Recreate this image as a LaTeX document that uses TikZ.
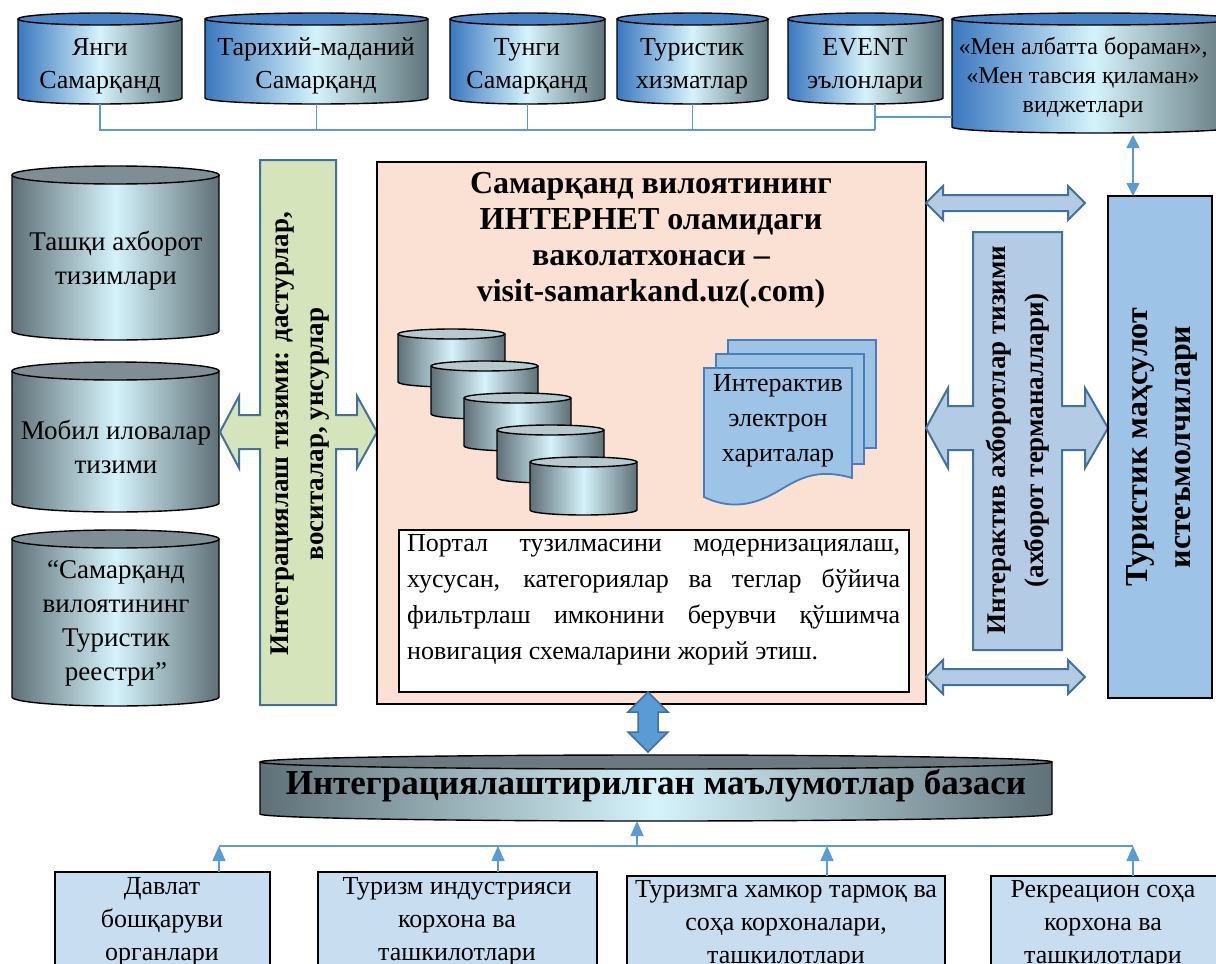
\documentclass[tikz,border=0pt]{standalone}
\usepackage{fontspec}
\setmainfont{Liberation Serif}
\usetikzlibrary{arrows.meta,calc}
\definecolor{cblueL}{HTML}{3B78BF}
\definecolor{cmid}{HTML}{D5F3FB}
\definecolor{cgreyR}{HTML}{5E7379}
\definecolor{capblue}{HTML}{4A84C4}
\definecolor{slate}{HTML}{5F7077}
\definecolor{capgrey}{HTML}{7F8E94}
\definecolor{dbcapc}{HTML}{6C7A7F}
\definecolor{smallcapc}{HTML}{B5C9CF}
\definecolor{peach}{HTML}{FBE1D3}
\definecolor{cgreen}{HTML}{D6E4BC}
\definecolor{cline}{HTML}{5B9BD5}
\definecolor{astroke}{HTML}{41719C}
\definecolor{lblue}{HTML}{9DC3E6}
\definecolor{dotblue}{HTML}{B4CBE5}
\definecolor{boxblue}{HTML}{C9DDF1}
\definecolor{docblue}{HTML}{9DC3E6}
\definecolor{docstroke}{HTML}{4A7EBB}
\newcommand{\myfs}[2]{\fontsize{#1}{#2}\selectfont}
\newcommand{\cyl}[8]{%
  \pgfmathsetmacro{\cylcx}{((#2)+(#4))/2}%
  \pgfmathsetmacro{\cylrx}{((#4)-(#2))/2}%
  \pgfmathsetmacro{\cylw}{(#4)-(#2)}%
  \pgfmathsetmacro{\cylh}{(#5)-(#3)}%
  \pgfmathsetmacro{\cylcy}{-((#3)+(#5))/2}%
  \pgfmathsetmacro{\cylyt}{-(#3)-(#6)}%
  \pgfmathsetmacro{\cylyb}{-(#5)+(#6)}%
  \pgfmathsetmacro{\cylxa}{#2}%
  \pgfmathsetmacro{\cylxb}{#4}%
  \path[#7] (\cylxa,\cylyt) -- (\cylxa,\cylyb) arc[start angle=180,end angle=360,x radius=\cylrx pt,y radius=#6 pt] -- (\cylxb,\cylyt) -- cycle;
  \draw[cylline] (\cylxa,\cylyt) -- (\cylxa,\cylyb) arc[start angle=180,end angle=360,x radius=\cylrx pt,y radius=#6 pt] -- (\cylxb,\cylyt);
  \draw[cylline,#8] (\cylcx,\cylyt) ellipse[x radius=\cylrx pt,y radius=#6 pt];
  \node[inner sep=0pt,outer sep=0pt,minimum width=\cylw pt,minimum height=\cylh pt] (#1) at (\cylcx,\cylcy) {};
}
\begin{document}
\begin{tikzpicture}[x=1pt,y=1pt,
  cylline/.style={draw=black,line width=1.4pt},
  topbody/.style={left color=cblueL,right color=cgreyR,middle color=cmid},
  topcap/.style={fill=capblue},
  greybody/.style={left color=slate,right color=slate,middle color=cmid},
  greycap/.style={fill=capgrey},
  dbcap/.style={fill=dbcapc},
  smallcap/.style={fill=smallcapc},
  toptxt/.style={align=center,font=\myfs{26}{33},inner sep=0pt},
  lefttxt/.style={align=center,font=\myfs{27}{34},inner sep=0pt},
  bottxt/.style={align=center,font=\myfs{26}{33},inner sep=0pt},
  conn/.style={draw=cline,line width=1.5pt},
  uparrow/.style={conn,-{Triangle[length=15pt,width=13pt]}},
  blockarrow/.style={draw=astroke,line width=2pt,line join=miter},
  plainbox/.style={draw=black,line width=1.5pt,inner sep=0pt,outer sep=0pt},
]
\useasboundingbox (0,0) rectangle (1216,-964);
\clip (0,0) rectangle (1216,-964);
\fill[white] (0,0) rectangle (1216,-964);

% ---------- top cylinders ----------
\cyl{c1}{18}{13}{182}{104}{6}{topbody}{topcap}
\cyl{c2}{205}{13}{428}{104}{6}{topbody}{topcap}
\cyl{c3}{450}{13}{605}{104}{6}{topbody}{topcap}
\cyl{c4}{617}{13}{768}{104}{6}{topbody}{topcap}
\cyl{c5}{788}{13}{943}{104}{6}{topbody}{topcap}
\cyl{c6}{952}{13}{1236}{133}{6}{topbody}{topcap}
\node[toptxt] (t1) at (100,-66) {Янги\\Самарқанд};
\node[toptxt] (t2) at (316,-66) {Тарихий-маданий\\Самарқанд};
\node[toptxt] (t3) at (527,-66) {Тунги\\Самарқанд};
\node[toptxt] (t4) at (692,-66) {Туристик\\хизматлар};
\node[toptxt] (t5) at (865,-66) {EVENT\\эълонлари};
\node[align=center,font=\myfs{24}{29},inner sep=0pt] (t6) at (1083,-77) {«Мен албатта бораман»,\\«Мен тавсия қиламан»\\виджетлари};

\coordinate (busR) at (875,-130);
\coordinate (j6) at (875,-117);
\draw[conn] (c1.south) |- (busR);
\draw[conn] (c2.south) -- (c2.south |- busR);
\draw[conn] (c3.south) -- (c3.south |- busR);
\draw[conn] (c4.south) -- (c4.south |- busR);
\draw[conn] (busR) -- (busR |- c5.south);
\draw[conn] (j6) -- (j6 -| c6.west);

% ---------- left cylinders ----------
\cyl{l1}{12}{166}{219}{340}{9}{greybody}{greycap}
\cyl{l2}{12}{362}{219}{512}{9}{greybody}{greycap}
\cyl{l3}{12}{530}{219}{706}{9}{greybody}{greycap}
\node[lefttxt] (l1t) at (116,-261) {Ташқи ахборот\\тизимлари};
\node[lefttxt] (l2t) at (116,-447) {Мобил иловалар\\тизими};
\node[lefttxt] (l3t) at (116,-623) {“Самарқанд\\вилоятининг\\Туристик\\реестри”};

% ---------- green integration cross ----------
\draw[blockarrow,fill=cgreen] (260,-160) -- (336,-160) -- (336,-415) -- (357,-415) -- (357,-396) -- (377,-432) -- (357,-468) -- (357,-449) -- (336,-449) -- (336,-705) -- (260,-705) -- (260,-449) -- (239,-449) -- (239,-468) -- (220,-432) -- (239,-396) -- (239,-415) -- (260,-415) -- cycle;
\node[rotate=90,align=center,font=\bfseries\myfs{27}{35},inner sep=0pt] (integ) at (300,-434) {Интеграциялаш тизими: дастурлар,\\воситалар, унсурлар};

% ---------- central portal box ----------
\node[plainbox,fill=peach,minimum width=549pt,minimum height=542pt] (portal) at (651.5,-433) {};
\node[align=center,font=\bfseries\myfs{32}{36},inner sep=0pt] (title) at (651,-240) {Самарқанд вилоятининг\\ИНТЕРНЕТ оламидаги\\ваколатхонаси –\\visit-samarkand.uz(.com)};

\foreach \i in {0,...,4}{
  \cyl{s\i}{398+33*\i}{329+32*\i}{505+33*\i}{387+32*\i}{5}{greybody}{smallcap}
}

% document stack
\draw[draw=docstroke,line width=1.8pt,fill=docblue] (728,-340) rectangle (876,-448);
\draw[draw=docstroke,line width=1.8pt,fill=docblue] (716,-354) rectangle (864,-464);
\draw[draw=docstroke,line width=1.8pt,fill=docblue] (704,-368) -- (852,-368) -- (852,-478) .. controls (818,-468) and (800,-478) .. (780,-490) .. controls (760,-502) and (735,-512) .. (704,-497) -- cycle;
\node[align=center,font=\myfs{26}{35},inner sep=0pt] (maps) at (778,-421) {Интерактив\\электрон\\хариталар};

% description box
\node[plainbox,fill=white,minimum width=510pt,minimum height=162pt,anchor=north west] (desc) at (399,-530) {};
\node[anchor=north west,align=left,font=\myfs{26}{36},inner sep=0pt] (desctxt) at (407,-534) {%
\makebox[493pt][s]{Портал тузилмасини модернизациялаш,}\\
\makebox[493pt][s]{хусусан, категориялар ва теглар бўйича}\\
\makebox[493pt][s]{фильтрлаш имконини берувчи қўшимча}\\
новигация схемаларини жорий этиш.};

% ---------- right side ----------
\draw[blockarrow,fill=dotblue] (926,-203) -- (943,-186) -- (943,-195) -- (1068,-195) -- (1068,-186) -- (1085,-203) -- (1068,-220) -- (1068,-211) -- (943,-211) -- (943,-220) -- cycle;
\draw[blockarrow,fill=dotblue] (926,-677) -- (943,-660) -- (943,-669) -- (1068,-669) -- (1068,-660) -- (1085,-677) -- (1068,-694) -- (1068,-685) -- (943,-685) -- (943,-694) -- cycle;
\draw[blockarrow,fill=dotblue] (973,-232) -- (1062,-232) -- (1062,-406) -- (1085,-406) -- (1085,-388) -- (1108,-428) -- (1085,-468) -- (1085,-450) -- (1062,-450) -- (1062,-650) -- (973,-650) -- (973,-450) -- (948,-450) -- (948,-468) -- (926,-428) -- (948,-388) -- (948,-406) -- (973,-406) -- cycle;
\node[rotate=90,align=center,font=\bfseries\myfs{27}{38},inner sep=0pt] (iterm) at (1018,-440) {Интерактив ахборотлар тизими\\(ахборот терманаллари)};

\node[plainbox,fill=lblue,minimum width=104pt,minimum height=502pt,anchor=north west] (consumers) at (1108,-196) {};
\node[rotate=90,align=center,font=\bfseries\myfs{32}{43},inner sep=0pt] (constxt) at (1162,-447) {Туристик маҳсулот\\истеъмолчилари};

\coordinate (a6) at (1133,-135);
\draw[conn,{Triangle[length=13pt,width=13pt]}-{Triangle[length=13pt,width=13pt]}] (a6) -- (a6 |- consumers.north);

% ---------- vertical block arrow portal <-> db ----------
\draw[draw=astroke,line width=1.5pt,fill=cline] (648,-692) -- (668,-712) -- (658,-712) -- (658,-732) -- (668,-732) -- (648,-752) -- (628,-732) -- (638,-732) -- (638,-712) -- (628,-712) -- cycle;

% ---------- integrated database ----------
\cyl{db}{260}{755}{1052}{821}{7}{greybody}{dbcap}
\node[font=\bfseries\myfs{35}{40},inner sep=0pt] (dbt) at (656,-786) {Интеграциялаштирилган маълумотлар базаси};

% ---------- bottom boxes ----------
\node[plainbox,fill=boxblue,minimum width=215pt,minimum height=110pt,anchor=north west] (b1) at (55,-872) {};
\node[plainbox,fill=boxblue,minimum width=279pt,minimum height=110pt,anchor=north west] (b2) at (318,-872) {};
\node[plainbox,fill=boxblue,minimum width=318pt,minimum height=110pt,anchor=north west] (b3) at (627,-876) {};
\node[plainbox,fill=boxblue,minimum width=240pt,minimum height=110pt,anchor=north west] (b4) at (991,-876) {};
\node[bottxt] (b1t) at (162,-922) {Давлат\\бошқаруви\\органлари};
\node[bottxt] (b2t) at (457,-922) {Туризм индустрияси\\корхона ва\\ташкилотлари};
\node[bottxt] (b3t) at (786,-925) {Туризмга хамкор тармоқ ва\\соҳа корхоналари,\\ташкилотлари};
\node[bottxt] (b4t) at (1103,-925) {Рекреацион соҳа\\корхона ва\\ташкилотлари};

\coordinate (h0) at (637,-846);
\coordinate (h1) at (219,-846);
\coordinate (h2) at (498,-846);
\coordinate (h3) at (827,-846);
\coordinate (h4) at (1133,-846);
\draw[conn] (h1) -- (h4);
\draw[uparrow] (h0) -- (h0 |- db.south);
\draw[uparrow] (h1 |- b1.north) -- (h1);
\draw[uparrow] (h2 |- b2.north) -- (h2);
\draw[uparrow] (h3 |- b3.north) -- (h3);
\draw[uparrow] (h4 |- b4.north) -- (h4);
\end{tikzpicture}
\end{document}
